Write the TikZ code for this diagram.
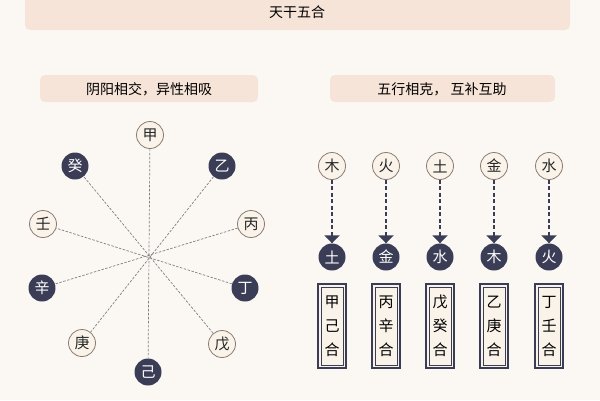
\documentclass[tikz,border=0pt]{standalone}
\usepackage{fontspec}
\newfontfamily\cjk{Noto Sans CJK SC}
\usetikzlibrary{arrows.meta}
\definecolor{bg}{HTML}{FBF8F4}
\definecolor{dk}{HTML}{3A3D55}
\definecolor{pch}{HTML}{F6E4D8}
\definecolor{lt}{HTML}{FAF3EA}
\definecolor{brd}{HTML}{8A7A70}
\begin{document}
\begin{tikzpicture}[x=1pt,y=-1pt,font=\cjk,
 bar/.style={fill=pch,rounded corners=5pt,draw=none},
 ltc/.style={circle,draw=brd,line width=0.8pt,fill=lt,minimum size=27pt,inner sep=0pt,text=black!85,font=\cjk\fontsize{15}{15}\selectfont},
 dkc/.style={circle,fill=dk,minimum size=27pt,inner sep=0pt,text=white,font=\cjk\fontsize{15}{15}\selectfont},
 pairln/.style={gray,line width=0.7pt,dash pattern=on 2.5pt off 1.5pt},
 arr/.style={dk,line width=2pt,dash pattern=on 4pt off 2.5pt,-{Triangle[length=8pt,width=15pt]}},
 hebox/.style={draw=dk,line width=2.2pt,fill=lt,minimum width=28pt,minimum height=84pt,inner sep=0pt,align=center,font=\cjk\fontsize{15}{24}\selectfont},
 inbox/.style={draw=dk,line width=0.8pt,fill=none,minimum width=22pt,minimum height=78pt,inner sep=0pt}]
\fill[bg] (0,0) rectangle (600,400);
\useasboundingbox (0,0) rectangle (600,400);
\fill[bar] (25,-5) rectangle (570,30);
\node (title) at (297,12) {\fontsize{14}{14}\selectfont 天干五合};
\fill[bar] (40,75) rectangle (258,102);
\node (lsub) at (149,89) {\fontsize{14}{14}\selectfont 阴阳相交，异性相吸};
\fill[bar] (330,75) rectangle (555,102);
\node (rsub) at (442,89) {\fontsize{14}{14}\selectfont 五行相克，\ 互补互助};
% wheel
\node[ltc] (jia) at (150,135) {甲};
\node[dkc] (yi) at (222,166) {乙};
\node[ltc] (bing) at (251,224) {丙};
\node[dkc] (ding) at (245,288) {丁};
\node[ltc] (wu) at (222,344) {戊};
\node[dkc] (ji) at (148,372) {己};
\node[ltc] (geng) at (82,343) {庚};
\node[dkc] (xin) at (42,288) {辛};
\node[ltc] (ren) at (43,224) {壬};
\node[dkc] (gui) at (75,166) {癸};
\draw[pairln] (jia) -- (ji);
\draw[pairln] (yi) -- (geng);
\draw[pairln] (bing) -- (xin);
\draw[pairln] (ding) -- (ren);
\draw[pairln] (wu) -- (gui);
% right
\foreach \i/\x/\a/\b/\t in {1/332/木/土/甲\\己\\合,2/386/火/金/丙\\辛\\合,3/440/土/水/戊\\癸\\合,4/494/金/木/乙\\庚\\合,5/549/水/火/丁\\壬\\合}{
 \node[ltc] (t\i) at (\x,166) {\a};
 \node[dkc] (d\i) at (\x,257) {\b};
 \draw[arr] (t\i) -- (d\i);
 \node[hebox] (h\i) at (\x,326) {\t};
 \node[inbox] (in\i) at (h\i.center) {};
}
\end{tikzpicture}
\end{document}
